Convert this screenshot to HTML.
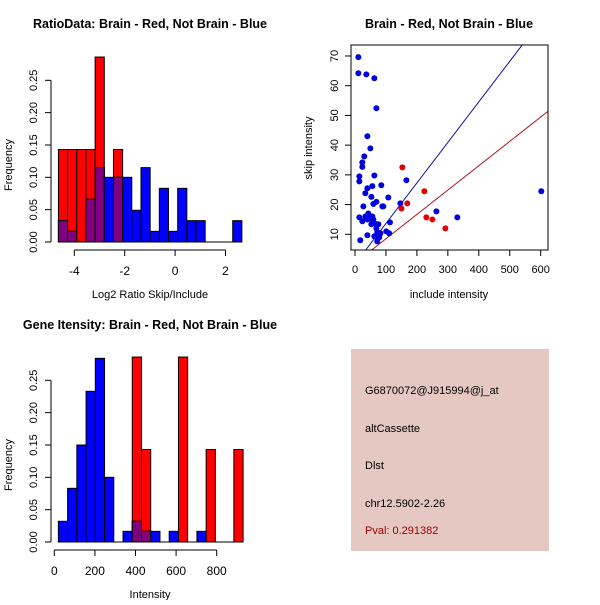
<!DOCTYPE html>
<html><head><meta charset="utf-8"><style>
body{margin:0;background:#fff}
svg text{font-family:"Liberation Sans",sans-serif;fill:#000}
</style></head><body>
<svg id="c" width="600" height="600" xmlns="http://www.w3.org/2000/svg"></svg>
<script>
// ---- Data: ratio histogram ----
const ratioBinStart = -4.63;
const ratioBinWidth = 0.364;
const ratioRed = [0.143,0.143,0.143,0.143,0.286,0,0.143,0,0,0,0,0,0,0,0,0,0,0,0,0];
const ratioBlue = [0.033,0.0165,0,0.066,0.115,0.1,0.1,0.1,0.049,0.115,0.0165,0.083,0.0165,0.083,0.033,0.033,0,0,0,0.033];
const ratioXTicks = [-4,-2,0,2];
const freqTicks = [0,0.05,0.10,0.15,0.20,0.25];
const freqTickLabels = ["0.00","0.05","0.10","0.15","0.20","0.25"];
// ---- Data: intensity histogram ----
const intBinStart = 20;
const intBinWidth = 45.5;
const intRed = [0,0,0,0,0,0,0,0,0.286,0.143,0,0,0,0.286,0,0,0.143,0,0,0.143];
const intBlue = [0.032,0.083,0.15,0.233,0.284,0.1,0,0.0165,0.032,0.0165,0.0165,0,0.0165,0,0,0.0165,0,0,0,0];
const intXTicks = [0,200,400,600,800];
// ---- Data: scatter ----
const blueInc = [10.8,10.8,36.6,62.5,69,40,49.6,30,23.7,23.7,14,14,62.5,166,85,40,56,33.4,52.8,69,59.2,27,88.3,107.7,91.5,146.5,263,330.7,602,14,23.7,33.4,40,43,49.6,56,59.2,52.8,62.5,75.4,69,113,72,82,69,62.5,40,101,110.7,72,17,78.6];
const blueSkip = [69.6,64.2,63.8,62.5,52.4,43,38.9,36.2,34.2,32.7,29.5,27.8,29.8,28.2,26.5,25.5,26.2,23.8,22.6,20.9,20.2,19.4,19.4,22.4,19.4,20.4,17.7,15.7,24.5,15.7,14.4,16,15,17,15.3,16,15,13.4,13.7,13.4,12,14,10.7,10.3,9.3,9.3,9.7,11,10.3,7.6,8,9];
const redInc = [153,224,169,150,230.5,250,292];
const redSkip = [32.5,24.5,20.4,18.7,15.7,15,12];
const blueLineSlope = 0.1364, blueLineIcpt = 0;
const redLineSlope = 0.0819, redLineIcpt = 0.32;
const scatXTicks = [0,100,200,300,400,500,600];
const scatYTicks = [10,20,30,40,50,60,70];

const svg = document.getElementById('c');
const NS = 'http://www.w3.org/2000/svg';
function mk(tag, attrs, parent){const e=document.createElementNS(NS,tag);for(const k in attrs)e.setAttribute(k,attrs[k]);(parent||svg).appendChild(e);return e;}
function txt(s, x, y, size, opts, parent){opts=opts||{};const a={x:x,y:y,'font-size':size,'text-anchor':opts.anchor||'middle'};if(opts.rot)a.transform='rotate(-90 '+x+' '+y+')';if(opts.bold)a['font-weight']='bold';if(opts.fill)a.style='fill:'+opts.fill;const t=mk('text',a,parent);t.textContent=s;return t;}

function histogram(name, binStart, binW, red, blue, xs, ys, xTicks, xTickLabelY, title, xlabel, xlabelY, titleY){
  const g = mk('g',{});
  
  
  for(let i=0;i<red.length;i++){
    const x0=xs(binStart+i*binW), x1=xs(binStart+(i+1)*binW);
    const r=red[i], b=blue[i], m=Math.min(r,b);
    if(r>0){const e=mk('rect',{x:x0,y:ys(r),width:x1-x0,height:ys(0)-ys(r),fill:'#ff0000',stroke:'#000','stroke-width':1},g);
      
      }
    if(b>0){const e=mk('rect',{x:x0,y:ys(b),width:x1-x0,height:ys(0)-ys(b),fill:'#0000ff',stroke:'#000','stroke-width':1},g);
      
      }
    if(m>0){const e=mk('rect',{x:x0,y:ys(m),width:x1-x0,height:ys(0)-ys(m),fill:'#800080',stroke:'#000','stroke-width':1},g);
      
      }
  }
  mk('line',{x1:xs(binStart),x2:xs(binStart+red.length*binW),y1:ys(0),y2:ys(0),stroke:'#000'},g);
  const ax=51;
  mk('line',{x1:ax,x2:ax,y1:ys(0),y2:ys(0.25),stroke:'#000'},g);
  freqTicks.forEach((v,i)=>{mk('line',{x1:ax-6,x2:ax,y1:ys(v),y2:ys(v),stroke:'#000'},g);txt(freqTickLabels[i],37,ys(v),11,{rot:true},g);});
  const ay=ys(0)+8;
  mk('line',{x1:xs(xTicks[0]),x2:xs(xTicks[xTicks.length-1]),y1:ay,y2:ay,stroke:'#000'},g);
  xTicks.forEach(v=>{mk('line',{x1:xs(v),x2:xs(v),y1:ay,y2:ay+6,stroke:'#000'},g);txt(String(v),xs(v),xTickLabelY,12,{},g);});
  txt('Frequency',12,ys(0.15)+20,11,{rot:true},g);
  txt(xlabel,150,xlabelY,11,{},g);
  txt(title,150,titleY,12.5,{bold:true},g);
}
const xs1=v=>74.3+(v+4)*25.2, ys1=v=>242-v*646.7;
histogram('ratio-histogram',ratioBinStart,ratioBinWidth,ratioRed,ratioBlue,xs1,ys1,ratioXTicks,275,'RatioData: Brain - Red, Not Brain - Blue','Log2 Ratio Skip/Include',298,28);
const xs2=v=>54.3+v*0.203, ys2=v=>542-v*646.7;
histogram('intensity-histogram',intBinStart,intBinWidth,intRed,intBlue,xs2,ys2,intXTicks,575,'Gene Itensity: Brain - Red, Not Brain - Blue','Intensity',598,329);

const sx=v=>355+v*0.3095, sy=v=>234.3-(v-10)*2.972;
const sg=mk('g',{});


mk('clipPath',{id:'clip'},sg);
mk('rect',{x:351,y:45,width:197,height:205},document.getElementById('clip'));
const lb=mk('line',{x1:sx(0),y1:sy(blueLineIcpt),x2:sx(640),y2:sy(blueLineIcpt+blueLineSlope*640),stroke:'#1010a0','clip-path':'url(#clip)'},sg);


const lr=mk('line',{x1:sx(0),y1:sy(redLineIcpt),x2:sx(640),y2:sy(redLineIcpt+redLineSlope*640),stroke:'#b01020','clip-path':'url(#clip)'},sg);


blueInc.forEach((v,i)=>{const c=mk('circle',{cx:sx(v),cy:sy(blueSkip[i]),r:3,fill:'#0000e0'},sg);
  
  });
redInc.forEach((v,i)=>{const c=mk('circle',{cx:sx(v),cy:sy(redSkip[i]),r:3,fill:'#e00000'},sg);
  
  });
mk('rect',{x:351,y:45,width:197,height:205,fill:'none',stroke:'#000'},sg);
scatXTicks.forEach(v=>{mk('line',{x1:sx(v),x2:sx(v),y1:250,y2:256,stroke:'#000'},sg);txt(String(v),sx(v),273,11,{},sg);});
scatYTicks.forEach(v=>{mk('line',{x1:345,x2:351,y1:sy(v),y2:sy(v),stroke:'#000'},sg);txt(String(v),338,sy(v),11,{rot:true},sg);});
txt('include intensity',449,298,11,{},sg);
txt('skip intensity',312,148,11,{rot:true},sg);
txt('Brain - Red, Not Brain - Blue',449,28,12.5,{bold:true},sg);
</script>
<div style="position:absolute;left:351px;top:349px;width:198px;height:202px;background:#e6c8c2;font-family:'Liberation Sans',sans-serif;font-size:11px;">
<div style="position:absolute;left:14px;top:36px">G6870072@J915994@j_at</div>
<div style="position:absolute;left:14px;top:74px">altCassette</div>
<div style="position:absolute;left:14px;top:111px">Dlst</div>
<div style="position:absolute;left:14px;top:149px">chr12.5902-2.26</div>
<div style="position:absolute;left:14px;top:176px;color:#a00000">Pval: 0.291382</div>
</div>
</body></html>
